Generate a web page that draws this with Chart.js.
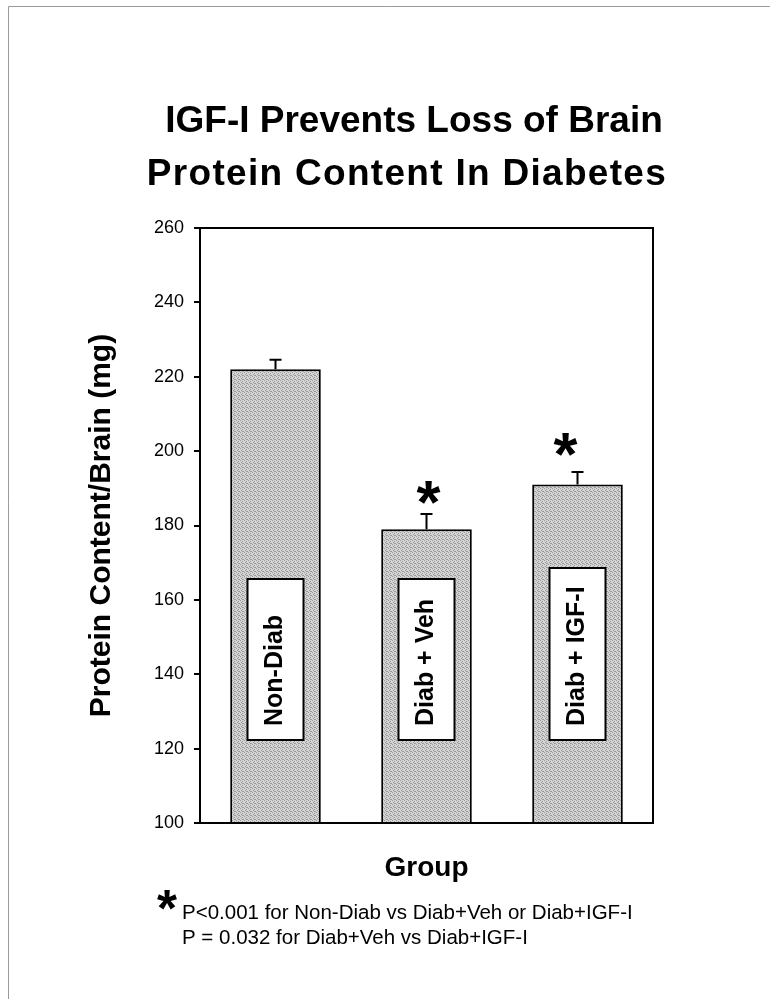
<!DOCTYPE html>
<html>
<head>
<meta charset="utf-8">
<script src="https://cdn.jsdelivr.net/npm/chart.js@4.4.1/dist/chart.umd.min.js"></script>
<style>
  html, body { margin: 0; padding: 0; background: #fff; }
  canvas { display: block; }
</style>
</head>
<body>
<canvas id="chart" width="770" height="999"></canvas>
<script>
// ---- data ----
const groups = ['Non-Diab', 'Diab + Veh', 'Diab + IGF-I'];
const proteinMg = [222, 179, 191];        // mean protein content per brain (mg)
const semMg = [2.6, 4.1, 3.4];            // upper error bar (SEM)
const significant = [false, true, true];  // marked with an asterisk
const yTicks = [100, 120, 140, 160, 180, 200, 220, 240, 260];
const titleLines = ['IGF-I Prevents Loss of Brain', 'Protein Content In Diabetes'];
const yAxisTitle = 'Protein Content/Brain (mg)';
const xAxisTitle = 'Group';
const footnoteLines = [
  'P<0.001 for Non-Diab vs Diab+Veh or Diab+IGF-I',
  'P = 0.032 for Diab+Veh vs Diab+IGF-I'
];

// ---- styling ----
const FONT = "'Liberation Sans', Arial, Helvetica, sans-serif";
Chart.defaults.font.family = FONT;
Chart.defaults.color = '#000';

// halftone-like grey fill for the bars
function makeHalftone() {
  const c = document.createElement('canvas');
  c.width = 4; c.height = 4;
  const g = c.getContext('2d');
  g.fillStyle = '#d4d4d4';
  g.fillRect(0, 0, 4, 4);
  g.fillStyle = '#999999';
  [[0,0],[2,1],[1,2],[3,3],[2,3]].forEach(([x, y]) => g.fillRect(x, y, 1, 1));
  return g.createPattern(c, 'repeat');
}

// star glyph centred on (cx, cy) with a given ink width
function drawStar(ctx, cx, cy, inkWidth) {
  ctx.save();
  ctx.font = `bold 100px ${FONT}`;
  const m0 = ctx.measureText('*');
  const w0 = m0.actualBoundingBoxLeft + m0.actualBoundingBoxRight;
  const size = 100 * inkWidth / w0;
  ctx.font = `bold ${size}px ${FONT}`;
  const m = ctx.measureText('*');
  ctx.textAlign = 'left';
  ctx.textBaseline = 'alphabetic';
  const x = cx - (m.actualBoundingBoxRight - m.actualBoundingBoxLeft) / 2;
  const y = cy + (m.actualBoundingBoxAscent - m.actualBoundingBoxDescent) / 2;
  ctx.fillStyle = '#000';
  ctx.fillText('*', x, y);
  ctx.restore();
}

const decor = {
  id: 'decor',
  beforeDraw(chart) {
    const ctx = chart.ctx;
    ctx.save();
    ctx.fillStyle = '#fff';
    ctx.fillRect(0, 0, chart.width, chart.height);
    // page edge
    ctx.strokeStyle = '#9a9a9a';
    ctx.lineWidth = 1;
    ctx.beginPath();
    ctx.moveTo(8.5, chart.height);
    ctx.lineTo(8.5, 6.5);
    ctx.lineTo(chart.width, 6.5);
    ctx.stroke();
    ctx.restore();
  },
  afterDatasetsDraw(chart) {
    const ctx = chart.ctx;
    const y = chart.scales.y;
    const area = chart.chartArea;
    const bars = chart.getDatasetMeta(0).data;
    const o = chart.options.plugins.decor;
    ctx.save();

    // group labels in white boxes inside the bars
    bars.forEach((bar, i) => {
      const bottom = area.bottom - o.boxBottomGap;
      const h = o.boxHeights[i];
      const left = bar.x - o.boxWidth / 2;
      ctx.fillStyle = '#fff';
      ctx.fillRect(left, bottom - h, o.boxWidth, h);
      ctx.strokeStyle = '#000';
      ctx.lineWidth = 2;
      ctx.strokeRect(left, bottom - h, o.boxWidth, h);
      ctx.save();
      ctx.translate(bar.x, bottom - o.textInset);
      ctx.rotate(-Math.PI / 2);
      ctx.font = `bold 25px ${FONT}`;
      ctx.fillStyle = '#000';
      ctx.textAlign = 'left';
      ctx.textBaseline = 'middle';
      ctx.fillText(groups[i], 0, 0);
      ctx.restore();
    });

    // upper error bars and significance stars
    ctx.strokeStyle = '#000';
    ctx.lineWidth = 2;
    bars.forEach((bar, i) => {
      const top = y.getPixelForValue(proteinMg[i] + semMg[i]);
      ctx.beginPath();
      ctx.moveTo(bar.x, bar.y);
      ctx.lineTo(bar.x, top);
      ctx.moveTo(bar.x - 6, top);
      ctx.lineTo(bar.x + 6, top);
      ctx.stroke();
      if (significant[i]) {
        drawStar(ctx, bar.x + o.starDx[i], top - o.starGap[i], 24);
      }
    });

    // plot frame
    ctx.lineWidth = 2;
    ctx.strokeRect(area.left, area.top, area.right - area.left, area.bottom - area.top);
    ctx.restore();
  },
  afterDraw(chart) {
    const ctx = chart.ctx;
    const o = chart.options.plugins.decor;
    ctx.save();
    ctx.fillStyle = '#000';
    // title
    ctx.font = `bold 37px ${FONT}`;
    ctx.textAlign = 'center';
    ctx.textBaseline = 'middle';
    titleLines.forEach((t, i) => {
      ctx.letterSpacing = o.titleSpacing[i] + 'px';
      ctx.fillText(t, o.titleX[i], o.titleY + i * o.titleGap);
    });
    ctx.letterSpacing = '0px';
    // footnote
    drawStar(ctx, o.noteX - 25, o.noteY + 1, 20);
    ctx.font = `20.5px ${FONT}`;
    ctx.textAlign = 'left';
    footnoteLines.forEach((t, i) => ctx.fillText(t, o.noteX, o.noteY + i * o.noteGap));
    ctx.restore();
  }
};

const ctx = document.getElementById('chart').getContext('2d');
new Chart(ctx, {
  type: 'bar',
  data: {
    labels: groups,
    datasets: [{
      data: proteinMg,
      backgroundColor: makeHalftone(),
      borderColor: '#000',
      borderWidth: 2,
      borderSkipped: 'start',
      categoryPercentage: 1,
      barPercentage: 0.6
    }]
  },
  options: {
    responsive: false,
    animation: false,
    devicePixelRatio: 1,
    layout: { padding: { top: 228, right: 117, bottom: 114, left: 70 } },
    plugins: {
      legend: { display: false },
      tooltip: { enabled: false },
      decor: {
        boxWidth: 56, boxBottomGap: 83, boxHeights: [161, 161, 172], textInset: 14,
        starDx: [0, 2, -12], starGap: [0, 21, 27],
        titleX: [414, 407], titleY: 122, titleGap: 53, titleSpacing: [0, 1.3],
        noteX: 182, noteY: 913, noteGap: 25
      }
    },
    scales: {
      x: {
        grid: { display: false },
        border: { display: true, color: '#000', width: 2 },
        ticks: { display: false },
        title: { display: true, text: xAxisTitle, color: '#000',
                 font: { size: 28, weight: 'bold' }, padding: { top: 0, bottom: 0 } },
        afterFit(s) { s.height = 62; s.paddingLeft = 0; s.paddingRight = 0; }
      },
      y: {
        min: 100, max: 260,
        afterBuildTicks(s) { s.ticks = yTicks.map(v => ({ value: v })); },
        ticks: { color: '#000', font: { size: 18 }, padding: 10 },
        grid: { display: true, drawOnChartArea: false, drawTicks: true, tickLength: 6,
                color: '#000', lineWidth: 2 },
        border: { display: true, color: '#000', width: 2 },
        title: { display: true, text: yAxisTitle, color: '#000',
                 font: { size: 30, weight: 'bold' }, padding: { top: 14, bottom: 0 } },
        afterFit(s) { s.width = 130; s.paddingTop = 0; s.paddingBottom = 0; }
      }
    }
  },
  plugins: [decor]
});
</script>
</body>
</html>
